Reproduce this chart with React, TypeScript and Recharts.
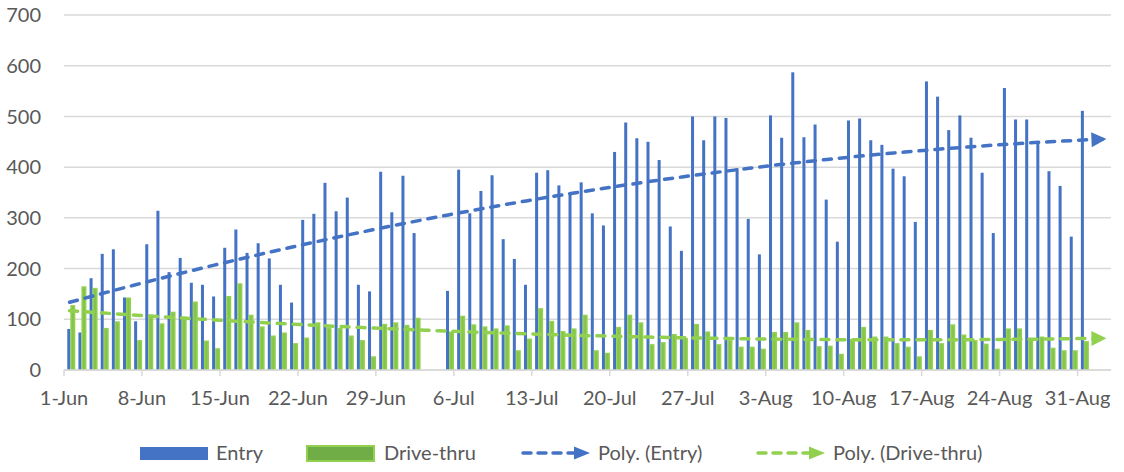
import { ComposedChart, Bar, Line, XAxis, YAxis, CartesianGrid } from 'recharts';

// days 1-Jun .. 2-Sep (the last two slots only carry the trend forecast)
const MONTHS: [string, number][] = [['Jun', 30], ['Jul', 31], ['Aug', 31], ['Sep', 2]];
const DATES: string[] = MONTHS.flatMap(([m, n]) => Array.from({ length: n }, (_, i) => `${i + 1}-${m}`));

const TICK_LABELS = ['1-Jun', '8-Jun', '15-Jun', '22-Jun', '29-Jun', '6-Jul', '13-Jul', '20-Jul', '27-Jul', '3-Aug', '10-Aug', '17-Aug', '24-Aug', '31-Aug'];
const Y_TICKS = [0, 100, 200, 300, 400, 500, 600, 700];

// 1-Jun .. 31-Aug, closed (0) on 3-Jul and 4-Jul
const ENTRY: number[] = [
  81, 74, 181, 229, 238, 143, 96, 248, 314, 193, 221, 172, 168, 145, 241, 277, 231, 250, 220, 168, 133, 296, 308, 369, 313, 340, 168, 155, 391, 311,
  383, 270, 0, 0, 156, 395, 309, 353, 384, 258, 219, 168, 389, 394, 364, 347, 370, 309, 285, 430, 488, 457, 450, 414, 283, 235, 500, 453, 500, 497, 398,
  298, 228, 502, 458, 587, 459, 484, 336, 253, 492, 496, 453, 444, 397, 382, 292, 569, 539, 473, 502, 458, 389, 270, 556, 494, 494, 451, 392, 363, 263, 511,
];
const DRIVE: number[] = [
  128, 165, 162, 83, 96, 143, 59, 109, 92, 115, 105, 135, 58, 43, 146, 171, 109, 86, 68, 74, 53, 64, 94, 84, 83, 68, 59, 27, 91, 94,
  89, 103, 0, 0, 76, 107, 90, 86, 82, 88, 39, 62, 122, 97, 77, 82, 109, 39, 34, 85, 109, 94, 51, 55, 71, 63, 91, 76, 51, 59, 46,
  46, 42, 75, 75, 94, 79, 47, 48, 32, 61, 85, 66, 66, 53, 46, 27, 79, 53, 90, 70, 59, 52, 42, 82, 82, 63, 66, 44, 39, 39, 57,
];

const BLUE = '#4472C4';
const GREEN = '#92D050';
const GREEN_DARK = '#70AD47';
const TEXT = '#595959';
const GRID = '#D9D9D9';
const FONT = 'Lato, "Open Sans", sans-serif';

const W = 1124;
const H = 472;
const PLOT_L = 64;
const PLOT_R = 1111;
const PLOT_T = 15;
const PLOT_B = 370;
const BAND = (PLOT_R - PLOT_L) / DATES.length;
const Y_MAX = 700;

// least squares, order 2 (what the "Poly." trendline is)
function polyFit2(vals: number[]) {
  const s = [0, 0, 0, 0, 0];
  const t = [0, 0, 0];
  vals.forEach((v, x) => {
    for (let k = 0; k < 5; k++) s[k] += x ** k;
    for (let k = 0; k < 3; k++) t[k] += v * x ** k;
  });
  const m = [
    [s[0], s[1], s[2], t[0]],
    [s[1], s[2], s[3], t[1]],
    [s[2], s[3], s[4], t[2]],
  ];
  for (let i = 0; i < 3; i++) {
    for (let j = i + 1; j < 3; j++) {
      const f = m[j][i] / m[i][i];
      for (let k = i; k < 4; k++) m[j][k] -= f * m[i][k];
    }
  }
  const c = [0, 0, 0];
  for (let i = 2; i >= 0; i--) {
    let acc = m[i][3];
    for (let k = i + 1; k < 3; k++) acc -= m[i][k] * c[k];
    c[i] = acc / m[i][i];
  }
  return (x: number) => c[0] + c[1] * x + c[2] * x * x;
}

const entryFit = polyFit2(ENTRY);
const driveFit = polyFit2(DRIVE);

const data = DATES.map((date, i) => ({
  date,
  entry: ENTRY[i] ?? null,
  drive: DRIVE[i] ?? null,
  entryTrend: entryFit(i),
  driveTrend: driveFit(i),
}));

const entryTrendVals = data.map((d) => d.entryTrend);
const driveTrendVals = data.map((d) => d.driveTrend);

const arrowDot = (color: string, vals: number[]) => (props: any) => {
  const { cx, cy, index } = props;
  if (index !== vals.length - 1 || cx == null) return <g key={`d${index}`} />;
  const dv = vals[index] - vals[index - 1];
  const deg = (Math.atan2((-dv * (PLOT_B - PLOT_T)) / Y_MAX, BAND) * 180) / Math.PI;
  return (
    <polygon
      key={`d${index}`}
      points={`${cx + 1},${cy} ${cx - 14},${cy - 7.5} ${cx - 14},${cy + 7.5}`}
      fill={color}
      transform={`rotate(${deg} ${cx} ${cy})`}
    />
  );
};

const SHIFT = 1.3;

const EntryBar = (p: any) => {
  const { x, y, width, height } = p;
  if (!height || height <= 0) return <g />;
  return <rect x={x + SHIFT} y={y} width={width} height={height} fill={BLUE} />;
};

const DriveBar = (p: any) => {
  const { x, y, width, height } = p;
  if (!height || height <= 0) return <g />;
  return (
    <g>
      <rect x={x + SHIFT} y={y} width={width} height={height} fill={GREEN} />
      <rect x={x + SHIFT + 1.5} y={y + 1.5} width={Math.max(width - 3, 0)} height={Math.max(height - 1.5, 0)} fill="#84C44B" />
    </g>
  );
};

const DateTick = (props: any) => {
  const { x, payload } = props;
  const i = payload.index;
  if (i % 7 !== 0 || i / 7 >= TICK_LABELS.length) return <g />;
  const left = x - BAND / 2;
  return (
    <g>
      <line x1={left} x2={left} y1={PLOT_B} y2={PLOT_B + 6} stroke={GRID} strokeWidth={1.5} />
      <text x={left} y={PLOT_B + 35} textAnchor="middle" fill={TEXT} fontSize={20} fontFamily={FONT}>
        {TICK_LABELS[i / 7]}
      </text>
    </g>
  );
};

const LegendItem = ({ left, symbol, label }: { left: number; symbol: any; label: string }) => (
  <div style={{ position: 'absolute', left, top: 440, height: 24, display: 'flex', alignItems: 'center', whiteSpace: 'nowrap' }}>
    {symbol}
    <span style={{ marginLeft: 8 }}>{label}</span>
  </div>
);

const trendSymbol = (color: string) => (
  <svg width={70} height={16} style={{ marginTop: 2 }}>
    <line x1={3} y1={8} x2={56} y2={8} stroke={color} strokeWidth={3.5} strokeDasharray="8 7" strokeLinecap="round" />
    <polygon points="70,8 54,1.5 54,14.5" fill={color} />
  </svg>
);

export default function App() {
  return (
    <div style={{ position: 'absolute', left: 0, top: 0, width: W, height: H, background: '#fff', fontFamily: FONT, color: TEXT, fontSize: 20 }}>
      <ComposedChart width={W} height={H} data={data} margin={{ top: PLOT_T, right: W - PLOT_R, left: 0, bottom: 0 }} barGap={0}>
        <CartesianGrid vertical={false} stroke={GRID} strokeWidth={1.5} />
        <XAxis
          dataKey="date"
          interval={0}
          height={H - PLOT_B}
          tickLine={false}
          axisLine={{ stroke: GRID, strokeWidth: 1.5 }}
          tick={<DateTick />}
        />
        <YAxis
          domain={[0, Y_MAX]}
          ticks={Y_TICKS}
          width={PLOT_L}
          axisLine={false}
          tickLine={false}
          tickSize={0}
          tickMargin={23}
          tick={{ fill: TEXT, fontSize: 20, fontFamily: FONT }}
        />
        <Bar dataKey="entry" fill={BLUE} barSize={3} shape={<EntryBar />} isAnimationActive={false} />
        <Bar dataKey="drive" fill={GREEN} barSize={5} shape={<DriveBar />} isAnimationActive={false} />
        <Line
          dataKey="entryTrend"
          stroke={BLUE}
          strokeWidth={3.5}
          strokeDasharray="8 8"
          strokeLinecap="round"
          dot={arrowDot(BLUE, entryTrendVals)}
          activeDot={false}
          isAnimationActive={false}
        />
        <Line
          dataKey="driveTrend"
          stroke={GREEN}
          strokeWidth={3.5}
          strokeDasharray="8 8"
          strokeLinecap="round"
          dot={arrowDot(GREEN, driveTrendVals)}
          activeDot={false}
          isAnimationActive={false}
        />
      </ComposedChart>
      <LegendItem left={140} label="Entry" symbol={<svg width={68} height={14} style={{ marginTop: 3 }}><rect width={68} height={13} fill={BLUE} /></svg>} />
      <LegendItem
        left={306}
        label="Drive-thru"
        symbol={
          <svg width={70} height={17} style={{ marginTop: 3 }}>
            <rect x={1} y={1} width={67} height={15} fill={GREEN_DARK} stroke={GREEN} strokeWidth={2} />
          </svg>
        }
      />
      <LegendItem left={520} label="Poly. (Entry)" symbol={trendSymbol(BLUE)} />
      <LegendItem left={755} label="Poly. (Drive-thru)" symbol={trendSymbol(GREEN)} />
    </div>
  );
}
